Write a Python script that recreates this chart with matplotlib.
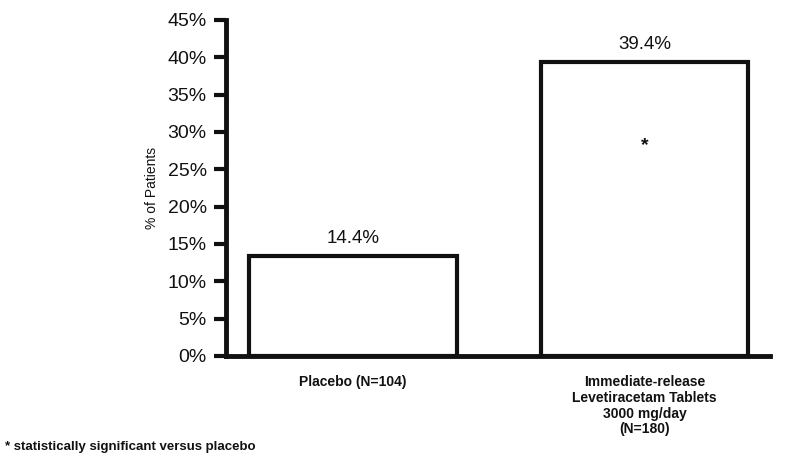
import matplotlib
matplotlib.use("Agg")
import matplotlib.pyplot as plt

groups = ["Placebo (N=104)",
          "Immediate-release\nLevetiracetam Tablets\n3000 mg/day\n(N=180)"]
heights = [13.4, 39.4]          # bar tops as drawn in the picture
labels = ["14.4%", "39.4%"]
yticks = [0, 5, 10, 15, 20, 25, 30, 35, 40, 45]

plt.rcParams['font.family'] = ['Liberation Sans', 'DejaVu Sans']
narrow = ['Liberation Sans Narrow', 'Liberation Sans', 'DejaVu Sans']

fig = plt.figure(figsize=(8.02, 4.72), dpi=100)
ax = fig.add_axes([0.282, 0.246, 0.678, 0.712])

x = [0, 1]
ax.bar(x, heights, width=0.712, color='white', edgecolor='#111111', linewidth=3)

for xi, h, lab in zip(x, heights, labels):
    ax.annotate(lab, (xi, h), xytext=(0, 6), textcoords='offset points',
                ha='center', va='bottom', fontsize=13.5, color='#111111')
ax.text(1, 28.2, "*", ha='center', va='center', fontsize=14, fontweight='bold', color='#111111')

ax.set_xlim(-0.435, 1.43)
ax.set_ylim(0, 45)
ax.set_yticks(yticks)
ax.set_yticklabels([f"{t}%" for t in yticks], fontsize=14, color='#111111')
ax.set_xticks(x)
ax.set_xticklabels(groups, family=narrow, fontweight='bold', fontsize=10,
                   linespacing=1.15, color='#111111', va='top')
ax.tick_params(axis='x', length=0, pad=14)
ax.tick_params(axis='y', length=9, width=3, color='#111111', pad=5)

for s in ['top', 'right']:
    ax.spines[s].set_visible(False)
for s in ['left', 'bottom']:
    ax.spines[s].set_linewidth(3.5)
    ax.spines[s].set_color('#111111')

ax.set_ylabel("% of Patients", fontsize=10, color='#111111', labelpad=6)

fig.text(0.006, 0.052, "* statistically significant versus placebo", family=narrow,
         fontweight='bold', fontsize=9.5, color='#111111', ha='left', va='center')

fig.savefig("out.png", dpi=100)
